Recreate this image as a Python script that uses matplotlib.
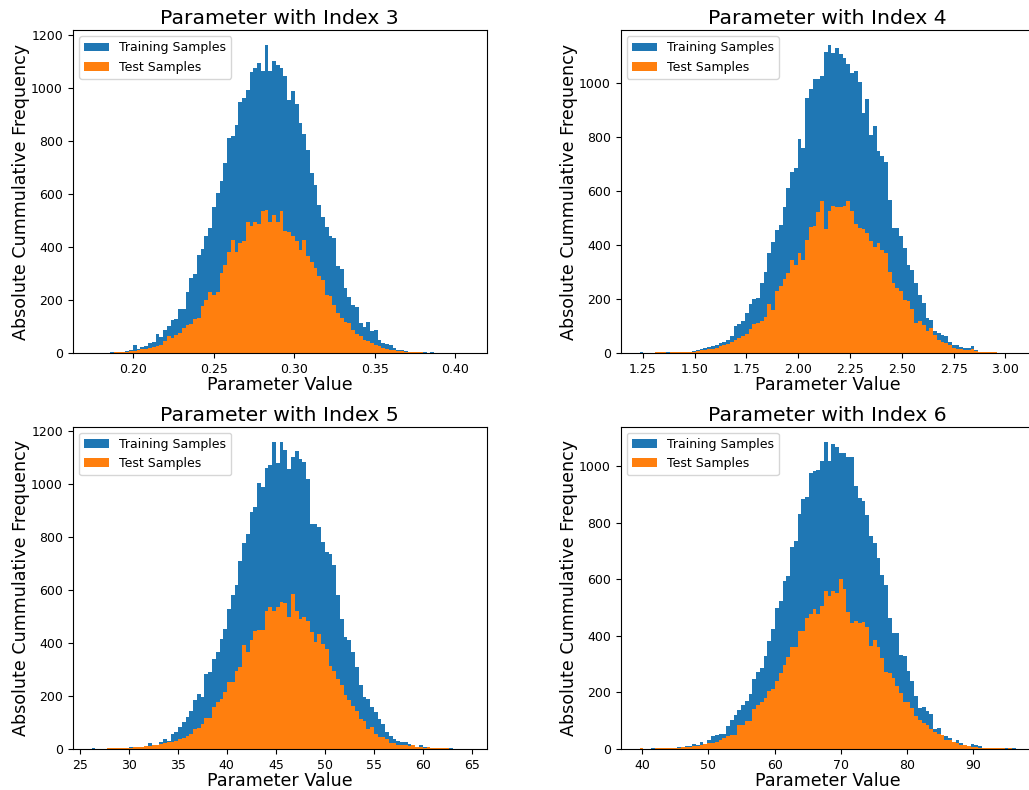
import matplotlib.pyplot as plt
import numpy as np

# bin counts (100 bins each)
p3_range = (0.174, 0.408)
p3_train = [1, 0, 1, 0, 2, 3, 3, 5, 4, 8,
            12, 31, 14, 22, 25, 38, 42, 72, 62, 88,
            103, 125, 128, 166, 168, 229, 283, 300, 370, 392,
            440, 470, 550, 603, 650, 716, 810, 817, 860, 948,
            960, 992, 1061, 1073, 1095, 1065, 1160, 1065, 1100, 1087,
            1073, 1045, 955, 990, 940, 867, 825, 766, 678, 634,
            560, 515, 477, 440, 434, 327, 317, 245, 211, 181,
            173, 113, 100, 119, 85, 88, 50, 38, 35, 31,
            19, 12, 10, 7, 6, 5, 6, 3, 4, 2,
            3, 1, 2, 1, 2, 2, 1, 0, 1, 2]
p3_test = [0, 1, 1, 2, 1, 2, 3, 3, 5, 6,
           8, 9, 12, 14, 16, 19, 22, 27, 31, 45,
           63, 57, 69, 75, 94, 107, 110, 128, 134, 176,
           201, 232, 220, 232, 302, 333, 383, 427, 383, 414,
           421, 496, 481, 496, 487, 534, 538, 496, 521, 496,
           534, 462, 458, 440, 421, 390, 427, 367, 345, 320,
           289, 276, 220, 214, 180, 151, 132, 119, 113, 88,
           73, 63, 50, 44, 38, 31, 25, 19, 14, 12,
           10, 9, 8, 6, 5, 4, 3, 3, 2, 1,
           1, 0, 1, 0, 0, 0, 0, 0, 0, 0]

p4_range = (1.234, 3.05)
p4_train = [3, 0, 1, 0, 2, 1, 2, 3, 2, 4,
            3, 5, 4, 6, 9, 12, 15, 18, 22, 26,
            31, 36, 42, 47, 62, 100, 108, 118, 148, 180,
            200, 205, 260, 300, 370, 410, 455, 475, 540, 610,
            670, 685, 793, 760, 944, 975, 1015, 1012, 1025, 1114,
            1138, 1111, 1130, 1107, 1093, 1068, 1037, 1043, 1002, 889,
            941, 805, 840, 747, 728, 706, 565, 463, 463, 432,
            389, 327, 309, 259, 216, 185, 130, 123, 80, 74,
            68, 62, 43, 31, 31, 21, 19, 19, 25, 10,
            6, 5, 4, 3, 3, 2, 2, 1, 2, 1]
p4_test = [0, 0, 0, 0, 3, 3, 3, 2, 4, 3,
           4, 5, 4, 5, 6, 8, 10, 12, 14, 17,
           19, 25, 31, 35, 40, 49, 56, 62, 72, 90,
           108, 112, 120, 135, 180, 160, 228, 247, 274, 296,
           346, 327, 370, 346, 420, 467, 469, 521, 562, 459,
           525, 543, 541, 541, 543, 562, 525, 479, 463, 459,
           444, 414, 393, 407, 383, 370, 299, 259, 241, 228,
           198, 191, 163, 111, 117, 105, 80, 93, 68, 49,
           43, 37, 31, 19, 15, 14, 13, 12, 14, 8,
           5, 4, 3, 4, 3, 2, 2, 2, 1, 2]

p5_range = (26.2, 64.6)
p5_train = [2, 1, 1, 0, 2, 1, 2, 3, 4, 5,
            6, 7, 5, 8, 9, 21, 13, 16, 25, 38,
            31, 57, 63, 82, 101, 120, 145, 183, 208, 195,
            284, 290, 340, 368, 416, 454, 530, 583, 620, 712,
            779, 813, 895, 914, 1005, 990, 1063, 1072, 1160, 1081,
            1160, 1129, 1059, 1103, 1125, 1097, 1084, 1019, 851, 851,
            839, 782, 744, 738, 694, 580, 492, 423, 410, 366,
            309, 240, 196, 189, 158, 139, 113, 95, 63, 50,
            38, 31, 28, 28, 19, 9, 4, 13, 6, 5,
            4, 3, 4, 2, 1, 2, 1, 0, 1, 0]
p5_test = [0, 0, 0, 0, 2, 3, 2, 3, 4, 3,
           5, 6, 7, 9, 10, 11, 14, 16, 19, 21,
           25, 28, 30, 38, 42, 50, 57, 76, 78, 95,
           116, 116, 158, 179, 189, 214, 252, 252, 296, 309,
           391, 366, 410, 444, 448, 448, 523, 536, 523, 536,
           555, 552, 498, 586, 523, 492, 498, 482, 441, 404,
           435, 397, 378, 315, 296, 265, 240, 202, 183, 164,
           145, 113, 107, 76, 82, 57, 44, 44, 38, 23,
           21, 15, 13, 13, 12, 13, 6, 6, 5, 6,
           4, 4, 3, 4, 2, 1, 0, 0, 0, 0]

p6_range = (39.6, 96.4)
p6_train = [2, 1, 0, 2, 2, 1, 3, 2, 4, 3,
            7, 8, 9, 10, 18, 15, 24, 15, 33, 45,
            49, 53, 54, 80, 104, 120, 136, 157, 169, 193,
            246, 273, 285, 329, 382, 423, 500, 524, 595, 613,
            713, 734, 832, 885, 893, 976, 984, 988, 1018, 1086,
            1018, 1080, 1068, 1047, 1047, 1032, 1032, 931, 888, 876,
            829, 753, 730, 674, 615, 580, 464, 411, 411, 334,
            328, 275, 240, 187, 146, 148, 134, 122, 69, 75,
            51, 45, 37, 21, 33, 21, 13, 12, 19, 13,
            12, 5, 4, 3, 2, 4, 3, 2, 1, 2]
p6_test = [2, 0, 1, 1, 2, 2, 3, 3, 4, 5,
           5, 6, 7, 8, 9, 12, 14, 18, 20, 21,
           24, 33, 40, 45, 51, 51, 86, 84, 100, 100,
           140, 154, 165, 181, 206, 211, 240, 270, 297, 326,
           359, 361, 417, 417, 464, 477, 494, 477, 506, 559,
           541, 557, 553, 601, 565, 486, 444, 451, 444, 448,
           430, 365, 385, 359, 323, 272, 269, 252, 222, 198,
           167, 167, 146, 116, 104, 92, 84, 69, 60, 53,
           49, 33, 30, 24, 21, 15, 13, 10, 8, 7,
           5, 4, 3, 3, 2, 2, 3, 1, 2, 1]

panels = [
    (3, p3_range, p3_train, p3_test),
    (4, p4_range, p4_train, p4_test),
    (5, p5_range, p5_train, p5_test),
    (6, p6_range, p6_train, p6_test),
]

# axes boxes in figure fractions (right column runs past the cropped edge)
positions = [
    [0.0707, 0.553, 0.4023, 0.409],
    [0.6032, 0.553, 0.4023, 0.409],
    [0.0707, 0.052, 0.4023, 0.408],
    [0.6032, 0.052, 0.4023, 0.408],
]

fig = plt.figure(figsize=(10.29, 7.9), dpi=100)

for (idx, rng, train, test), pos in zip(panels, positions):
    ax = fig.add_axes(pos)
    edges = np.linspace(rng[0], rng[1], len(train) + 1)
    centers = (edges[:-1] + edges[1:]) / 2
    ax.hist(centers, bins=edges, weights=train, color='#1f77b4', label='Training Samples')
    ax.hist(centers, bins=edges, weights=test, color='#ff7f0e', label='Test Samples')
    ax.set_title(f'Parameter with Index {idx}', fontsize=14.7, pad=4)
    ax.set_xlabel('Parameter Value', fontsize=12.6, labelpad=0)
    ax.set_ylabel('Absolute Cummulative Frequency', fontsize=12.6, labelpad=1)
    ax.tick_params(labelsize=9)
    ax.legend(loc='upper left', fontsize=9)

fig.savefig('out.png', dpi=100)
